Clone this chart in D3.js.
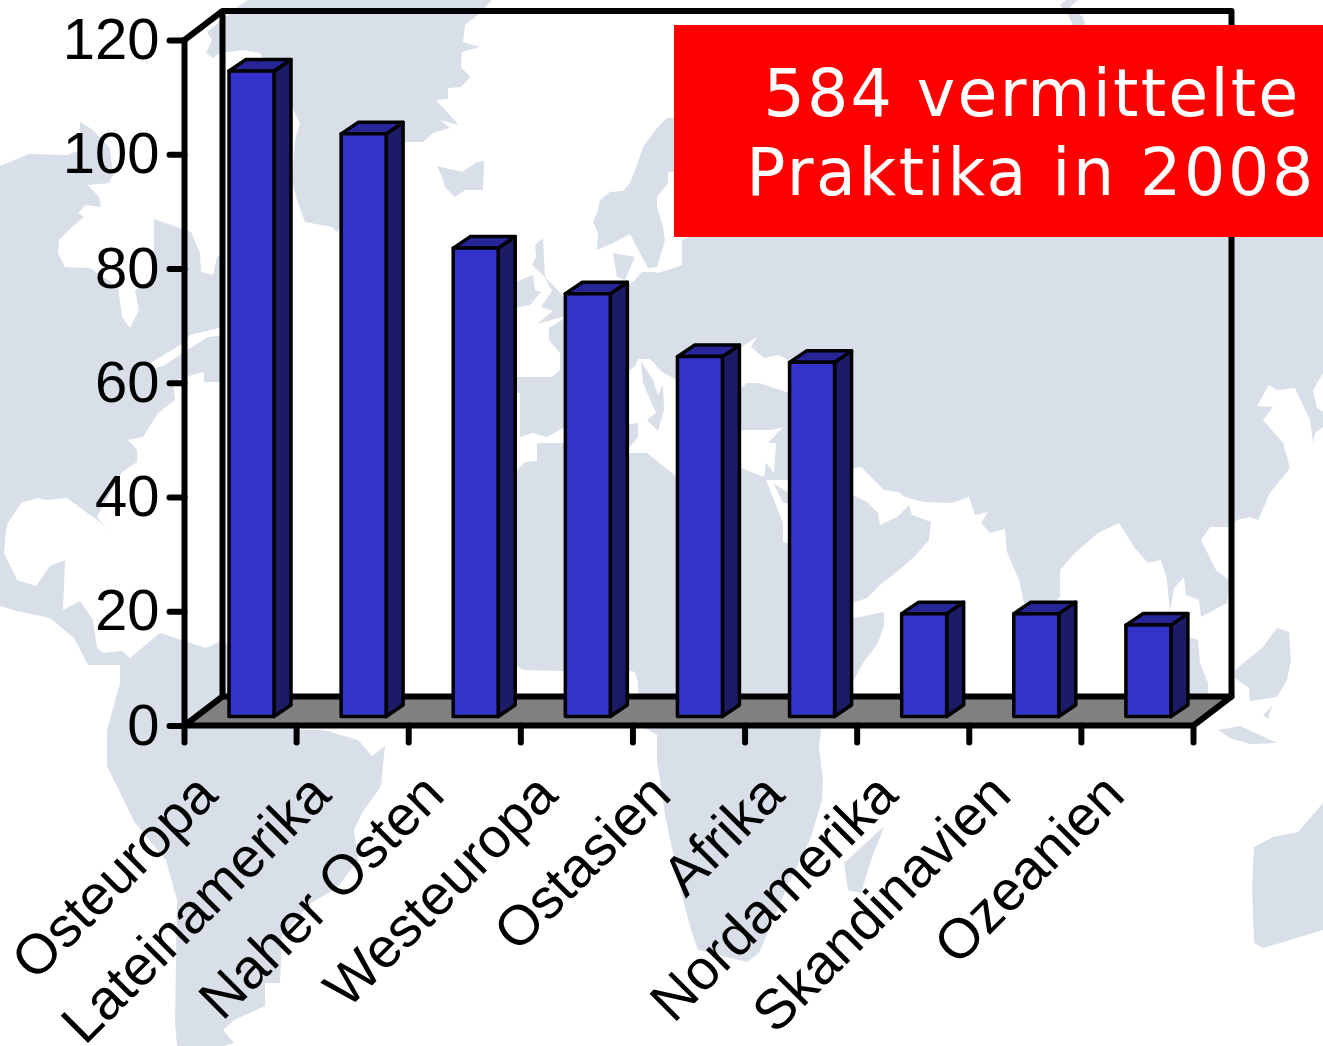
<!DOCTYPE html>
<html>
<head>
<meta charset="utf-8">
<title>Vermittelte Praktika 2008</title>
<script src="https://cdn.jsdelivr.net/npm/d3@7"></script>
<style>
  html, body { margin: 0; padding: 0; background: #fff; }
  svg { display: block; }
  text { font-family: "Liberation Sans", Arial, sans-serif; fill: #000; }
</style>
</head>
<body>
<div id="chart"></div>
<script>
/////////////////////////////////////////////////////////////
/////////////////////// Data ////////////////////////////////
/////////////////////////////////////////////////////////////
const categories = ["Osteuropa", "Lateinamerika", "Naher Osten", "Westeuropa", "Ostasien",
  "Afrika", "Nordamerika", "Skandinavien", "Ozeanien"];
const values = [113, 102, 82, 74, 63, 62, 18, 18, 16];
const yTicks = [0, 20, 40, 60, 80, 100, 120];
const calloutLines = ["584 vermittelte", "Praktika in 2008"];

// background world map (page pixels)
const mapLand = [
  // Americas
  [[0,166],[29,154],[67,155],[80,150],[80,122],[93,130],[110,148],[113,175],[109,183],[88,185],[99,197],[101,207],[86,205],[78,213],[84,217],[72,227],[59,240],[58,253],[65,267],[90,268],[118,287],[122,317],[130,328],[139,310],[135,290],[154,278],[154,219],[191,232],[200,253],[201,272],[213,275],[217,257],[224,253],[224,382],[204,382],[204,372],[185,377],[173,382],[175,400],[158,413],[143,437],[128,440],[137,450],[137,462],[122,472],[97,517],[112,536],[101,523],[67,498],[46,500],[38,498],[21,503],[8,523],[6,530],[4,553],[17,580],[36,586],[50,566],[65,560],[63,610],[80,601],[93,620],[97,648],[103,653],[122,651],[130,658],[160,633],[206,648],[223,640],[295,730],[324,730],[358,740],[372,756],[385,746],[381,786],[362,813],[354,830],[358,860],[337,888],[311,903],[282,936],[280,983],[265,983],[265,1006],[234,1020],[223,1030],[234,1043],[223,1046],[177,1046],[175,1023],[177,900],[166,860],[135,823],[107,766],[107,730],[120,683],[120,665],[88,665],[74,638],[50,618],[17,611],[0,606]],
  // Greenland
  [[248,0],[492,0],[480,13],[465,25],[463,42],[480,47],[462,52],[461,67],[470,77],[461,87],[448,88],[448,99],[436,100],[459,125],[440,120],[450,128],[433,133],[423,142],[402,142],[337,232],[332,227],[305,222],[297,200],[292,180],[295,140],[300,123],[295,113],[260,53],[243,50],[220,53],[213,58],[206,53],[212,40],[207,32],[240,5]],
  // Iceland
  [[437,166],[462,172],[477,162],[484,161],[483,190],[465,190],[455,197],[445,187],[442,177]],
  // Scandinavia
  [[667,118],[680,118],[680,172],[668,172],[668,183],[657,197],[657,207],[663,227],[665,240],[657,267],[648,268],[640,253],[630,234],[613,243],[597,250],[598,233],[593,222],[597,213],[600,200],[610,192],[623,191],[630,183],[637,165],[643,147],[657,128]],
  [[613,253],[635,257],[625,280],[617,277]],
  // Britain and Ireland
  [[543,238],[535,245],[536,257],[532,265],[550,282],[565,298],[565,316],[537,324],[553,311],[541,307],[552,291],[545,278]],
  [[515,282],[533,275],[535,290],[541,292],[530,305],[515,308]],
  // Iberia and France
  [[515,377],[552,377],[560,370],[560,353],[549,340],[549,328],[565,318],[600,320],[600,420],[563,428],[547,437],[533,433],[520,437],[520,393],[515,393]],
  // Eurasia
  [[626,285],[633,282],[642,272],[655,272],[658,273],[668,270],[682,265],[682,240],[700,232],[1323,232],[1323,373],[1313,390],[1317,408],[1323,412],[1323,427],[1315,433],[1313,443],[1310,420],[1295,388],[1277,390],[1269,385],[1257,406],[1273,407],[1263,420],[1283,443],[1290,468],[1270,493],[1258,520],[1250,517],[1237,520],[1229,527],[1210,527],[1201,540],[1216,570],[1229,580],[1227,603],[1201,617],[1199,600],[1186,595],[1184,577],[1174,588],[1170,612],[1167,580],[1161,560],[1148,563],[1134,547],[1119,523],[1098,533],[1076,552],[1060,570],[1060,597],[1035,620],[1024,603],[1019,580],[1007,552],[1005,529],[990,533],[981,523],[988,512],[975,515],[969,497],[952,503],[924,502],[905,497],[899,492],[884,490],[861,467],[830,470],[852,495],[867,502],[878,513],[880,525],[897,517],[909,505],[912,515],[931,522],[929,540],[914,557],[899,570],[880,585],[867,598],[852,603],[800,603],[790,480],[738,480],[720,385],[677,380],[662,372],[650,359],[638,359],[635,366],[627,372],[620,372]],
  // Italy and Balkans wedge
  [[641,361],[653,380],[658,395],[663,385],[664,410],[658,431],[647,420],[656,413],[643,383]],
  [[620,425],[638,423],[638,437],[632,445],[620,453]],
  // Africa
  [[537,443],[564,443],[627,453],[647,453],[677,477],[739,467],[763,477],[800,500],[830,618],[855,618],[884,612],[884,625],[878,643],[863,663],[855,678],[821,728],[819,747],[823,780],[822,800],[810,840],[790,880],[759,953],[747,962],[698,950],[692,933],[683,900],[665,815],[660,780],[657,762],[657,735],[640,725],[638,697],[638,683],[635,672],[626,670],[563,671],[523,670],[510,662],[510,475],[517,470],[525,462],[537,461]],
  // Madagascar
  [[884,827],[871,860],[861,893],[848,890],[844,863],[880,830]],
  // Sumatra, New Guinea, Sulawesi, Java
  [[1185,636],[1198,640],[1200,663],[1208,683],[1208,697],[1185,697]],
  [[1277,628],[1289,632],[1291,660],[1287,680],[1277,697],[1250,701],[1249,688],[1235,678],[1235,670],[1263,647]],
  [[1272,706],[1263,715],[1268,719]],
  [[1218,730],[1240,726],[1262,736],[1277,743],[1250,744],[1230,738]],
  // Australia
  [[1254,847],[1273,837],[1298,832],[1323,803],[1323,930],[1290,940],[1263,948],[1254,943],[1252,887]],
  // top edge sliver
  [[1060,5],[1066,0],[1078,0],[1070,7],[1083,17],[1085,25],[1073,25],[1068,15]]
];
// seas cut back out of the land
const mapSeas = [
  [[147,365],[180,345],[190,335],[219,328],[226,328],[226,335],[208,337],[187,350],[165,365],[150,370]],
  [[740,348],[757,337],[751,347],[764,358],[778,355],[795,363],[795,395],[759,383],[747,383],[736,393],[736,350]],
  [[736,430],[772,430],[783,427],[768,443],[776,443],[774,473],[766,463],[764,477],[736,466]],
  [[766,480],[772,480],[783,503],[795,503],[795,545],[783,542],[783,523],[774,500]],
  [[1278,395],[1287,395],[1280,405]]
];

/////////////////////////////////////////////////////////////
/////////////////////// Setup ///////////////////////////////
/////////////////////////////////////////////////////////////
var width = 1323, height = 1046;
var tickFontSize = 58, labelFontSize = 56;

// floor / wall depth and bar depth
var depth = { dx: 38, dy: -29 },
  barDepth = { dx: 17, dy: -11.5 },
  barShift = -9,
  barInset = 44.5,
  barWidth = 45;

var svg = d3.select("#chart").append("svg")
  .attr("width", width)
  .attr("height", height);

var x = d3.scaleBand().domain(categories).range([184.5, 1193.5]);
var y = d3.scaleLinear().domain([0, 120]).range([725.5, 40]);
// the rotated labels run a little wider than the bars
var labelX = d3.scalePoint().domain(categories).range([220, 1127]);

var left = x.range()[0], right = x.range()[1];
var y0 = y(0), yTop = y(120);

/////////////////////////////////////////////////////////////
/////////////////////// Map /////////////////////////////////
/////////////////////////////////////////////////////////////
var outline = d3.line().curve(d3.curveLinearClosed);

svg.append("g").selectAll("path").data(mapLand).enter().append("path")
  .attr("d", d => outline(d))
  .attr("fill", "#d8dfe9");

svg.append("g").selectAll("path").data(mapSeas).enter().append("path")
  .attr("d", d => outline(d))
  .attr("fill", "#fff");

/////////////////////////////////////////////////////////////
/////////////////////// Floor and walls /////////////////////
/////////////////////////////////////////////////////////////
svg.append("path")
  .attr("d", outline([[left, y0], [left + depth.dx, y0 + depth.dy], [right + depth.dx, y0 + depth.dy], [right, y0]]))
  .attr("fill", "#808080")
  .attr("stroke", "#000")
  .attr("stroke-width", 6)
  .attr("stroke-linejoin", "round");

// back wall plus the slanted top of the left side
svg.append("path")
  .attr("d", d3.line()([[left, yTop], [left + depth.dx, yTop + depth.dy], [right + depth.dx, yTop + depth.dy], [right + depth.dx, y0 + depth.dy]]))
  .attr("fill", "none")
  .attr("stroke", "#000")
  .attr("stroke-width", 6)
  .attr("stroke-linejoin", "round")
  .attr("stroke-linecap", "round");

svg.append("line")
  .attr("x1", left + depth.dx).attr("x2", left + depth.dx)
  .attr("y1", yTop + depth.dy).attr("y2", y0 + depth.dy)
  .attr("stroke", "#000")
  .attr("stroke-width", 6);

/////////////////////////////////////////////////////////////
/////////////////////// Bars ////////////////////////////////
/////////////////////////////////////////////////////////////
var bars = svg.append("g").selectAll("g")
  .data(categories.map((c, i) => ({ name: c, value: values[i] })))
  .enter().append("g")
  .attr("stroke", "#000")
  .attr("stroke-width", 3.5)
  .attr("stroke-linejoin", "round");

function barX(d) { return x(d.name) + barInset; }
function barTop(d) { return y(d.value) + barShift; }

// right side
bars.append("path")
  .attr("fill", "#1b1b66")
  .attr("d", d => {
    var r = barX(d) + barWidth, t = barTop(d), b = y0 + barShift;
    return outline([[r, t], [r + barDepth.dx, t + barDepth.dy], [r + barDepth.dx, b + barDepth.dy], [r, b]]);
  });

// top
bars.append("path")
  .attr("fill", "#262699")
  .attr("d", d => {
    var l = barX(d), t = barTop(d);
    return outline([[l, t], [l + barDepth.dx, t + barDepth.dy], [l + barWidth + barDepth.dx, t + barDepth.dy], [l + barWidth, t]]);
  });

// front
bars.append("rect")
  .attr("fill", "#3333cc")
  .attr("x", barX)
  .attr("y", barTop)
  .attr("width", barWidth)
  .attr("height", d => y0 + barShift - barTop(d));

/////////////////////////////////////////////////////////////
/////////////////////// Axes ////////////////////////////////
/////////////////////////////////////////////////////////////
var yAxis = svg.append("g")
  .attr("transform", "translate(" + left + ",0)")
  .call(d3.axisLeft(y).tickValues(yTicks).tickSize(15).tickPadding(10));

yAxis.select(".domain").remove();
yAxis.selectAll("line")
  .attr("stroke", "#000")
  .attr("stroke-width", 6)
  .attr("stroke-linecap", "round");
yAxis.selectAll("text")
  .attr("font-size", tickFontSize)
  .attr("font-family", "Liberation Sans")
  .attr("fill", "#000");

svg.append("line")
  .attr("x1", left).attr("x2", left)
  .attr("y1", yTop).attr("y2", y0)
  .attr("stroke", "#000")
  .attr("stroke-width", 6)
  .attr("stroke-linecap", "round");

// ticks sit between the bars, at the band edges
var xEdges = categories.map(c => x(c)).concat([right]);
svg.append("g").selectAll("line").data(xEdges).enter().append("line")
  .attr("x1", d => d).attr("x2", d => d)
  .attr("y1", y0).attr("y2", y0 + 17)
  .attr("stroke", "#000")
  .attr("stroke-width", 6)
  .attr("stroke-linecap", "round");

svg.append("g").selectAll("text").data(categories).enter().append("text")
  .attr("text-anchor", "end")
  .attr("font-size", labelFontSize)
  .attr("transform", d => "translate(" + labelX(d) + "," + (y0 + 72) + ")rotate(-45)")
  .text(d => d);

/////////////////////////////////////////////////////////////
/////////////////////// Callout /////////////////////////////
/////////////////////////////////////////////////////////////
svg.append("rect")
  .attr("x", 674).attr("y", 25)
  .attr("width", width - 674).attr("height", 212)
  .attr("fill", "#ff0000");

svg.append("g").selectAll("text").data(calloutLines).enter().append("text")
  .attr("x", (d, i) => i == 0 ? 1032 : 1031)
  .attr("y", (d, i) => 116 + i * 79)
  .attr("text-anchor", "middle")
  .attr("font-size", 65)
  .attr("letter-spacing", (d, i) => i == 0 ? 2.15 : 2.6)
  .style("font-family", "'DejaVu Sans'")
  .style("fill", "#fff")
  .text(d => d);
</script>
</body>
</html>
